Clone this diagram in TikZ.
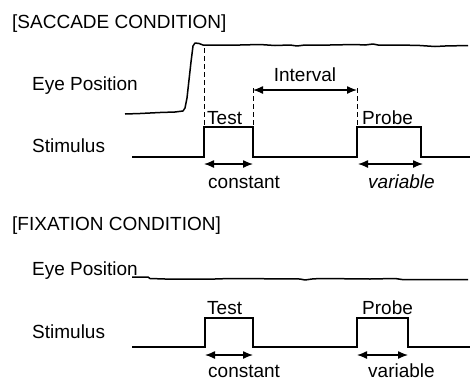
\documentclass[tikz,border=0pt]{standalone}
\usepackage{fontspec}
\setmainfont{Liberation Sans}
\usetikzlibrary{arrows.meta}

\begin{document}
\begin{tikzpicture}[
    x=1pt, y=-1pt,
    lbl/.style={anchor=base west, inner sep=0pt, font=\fontsize{19}{22}\selectfont},
    trace/.style={line width=1.5pt, line join=round},
    stim/.style={line width=1.4pt},
    guide/.style={line width=0.9pt, dash pattern=on 5pt off 3pt},
    arr/.style={{Latex[length=10pt,width=8pt]}-{Latex[length=10pt,width=8pt]}, line width=1.3pt}
]
    \useasboundingbox (0,0) rectangle (471,381);

    % saccade condition
    \node[lbl] (sactitle) at (12,28) {[SACCADE CONDITION]};
    \node[lbl] (seye) at (32,90) {Eye Position};
    \node[lbl] (sstim) at (32,152) {Stimulus};

    \draw[trace] (125,114) -- (140,113.5) -- (160,112.5) -- (175,112) -- (183,111)
        -- (185,108) -- (187,98) -- (189,80) -- (191,62) -- (193,46) -- (195,43)
        -- (199,43.5) -- (203,45) -- (215,45) -- (240,45) -- (260,44.5) -- (275,45.5)
        -- (290,45) -- (297,46) -- (305,45) -- (330,45) -- (355,44.5) -- (365,45)
        -- (373,44) -- (378,45) -- (400,45) -- (420,45.5) -- (435,46.5) -- (445,46)
        -- (468,45.5);

    \coordinate (stest1) at (204,127);
    \coordinate (stest2) at (253,127);
    \coordinate (sprobe1) at (357,127);
    \coordinate (sprobe2) at (421,127);
    \draw[stim] (132,157) -- (204,157) -- (stest1) -- (stest2) -- (253,157)
        -- (357,157) -- (sprobe1) -- (sprobe2) -- (421,157) -- (470,157);

    \coordinate (ssacc) at (204,48);
    \coordinate (sint1) at (253,88);
    \coordinate (sint2) at (357,88);
    \draw[guide] (ssacc) -- (stest1);
    \draw[guide] (sint1) -- (stest2);
    \draw[guide] (sint2) -- (sprobe1);

    \draw[arr] ([yshift=-2pt]sint1) -- node[above=8pt, inner sep=0pt, font=\fontsize{19}{22}\selectfont] (sinterval) {Interval} ([yshift=-2pt]sint2);

    \node[lbl] (stestlbl) at (207,124) {Test};
    \node[lbl] (sprobelbl) at (362,124) {Probe};

    \draw[arr] (204,164) coordinate (sc1) -- (253,164) coordinate (sc2);
    \draw[arr] (358,164) coordinate (sv1) -- (423,164) coordinate (sv2);
    \node[lbl] (sconst) at (208,188) {constant};
    \node[lbl, font=\fontsize{19}{22}\selectfont\itshape] (svar) at (368,188) {variable};

    % fixation condition
    \node[lbl] (fixtitle) at (12,230) {[FIXATION CONDITION]};
    \node[lbl] (feye) at (32,275) {Eye Position};
    \node[lbl] (fstim) at (32,338) {Stimulus};

    \draw[trace] (132,277) -- (148,277) -- (150,278.5) -- (165,279) -- (215,279)
        -- (230,278.5) -- (300,279) -- (305,280) -- (312,279) -- (320,278.5)
        -- (370,279) -- (395,278.5) -- (402,279.5) -- (430,279.5) -- (468,279.5);

    \coordinate (ftest1) at (205,318);
    \coordinate (ftest2) at (253,318);
    \coordinate (fprobe1) at (357,318);
    \coordinate (fprobe2) at (408,318);
    \draw[stim] (132,347) -- (205,347) -- (ftest1) -- (ftest2) -- (253,347)
        -- (357,347) -- (fprobe1) -- (fprobe2) -- (408,347) -- (470,347);

    \node[lbl] (ftestlbl) at (207,314) {Test};
    \node[lbl] (fprobelbl) at (362,314) {Probe};

    \draw[arr] (205,355) coordinate (fc1) -- (253,355) coordinate (fc2);
    \draw[arr] (357,355) coordinate (fv1) -- (408,355) coordinate (fv2);
    \node[lbl] (fconst) at (208,377) {constant};
    \node[lbl] (fvar) at (368,377) {variable};
\end{tikzpicture}
\end{document}
